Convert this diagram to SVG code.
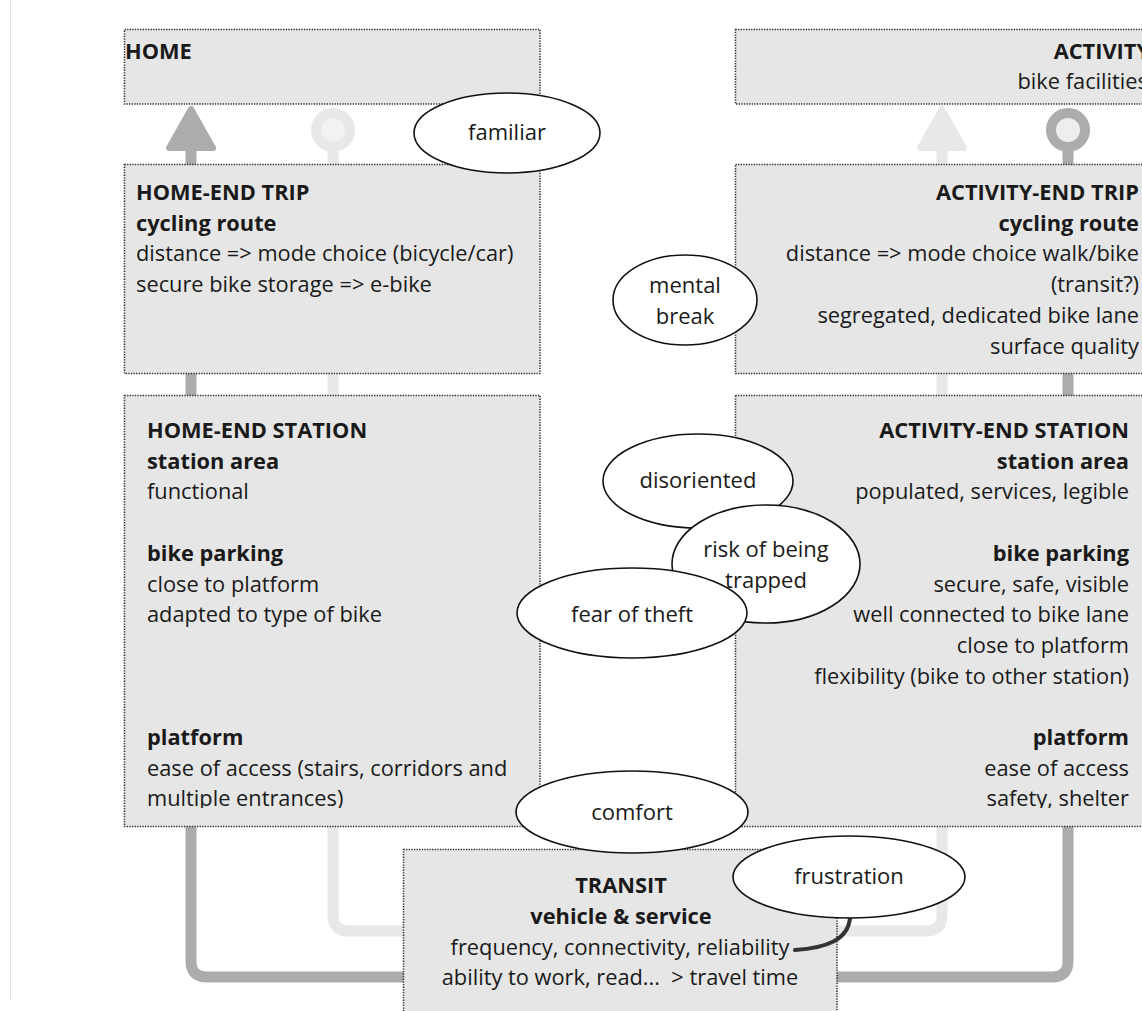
<svg xmlns="http://www.w3.org/2000/svg" width="1142" height="1011" viewBox="0 0 1142 1011">
<defs>
<style>
.box{fill:#e6e6e6;stroke:#2a2a2a;stroke-width:1.5;stroke-dasharray:1.3 1.3}
.t{font-family:"Open Sans","Noto Sans","DejaVu Sans",sans-serif;font-size:21.8px;fill:#1a1a1a}
.e{font-size:22px}
.b{font-weight:bold}
.r{text-anchor:end}
.m{text-anchor:middle}
.ell{fill:#ffffff;stroke:#111;stroke-width:1.6}
.dk{fill:none;stroke:#acacac;stroke-width:11}
.lt{fill:none;stroke:#e8e8e8;stroke-width:11}
</style>
<clipPath id="clipL"><rect x="124" y="395" width="416" height="413"/></clipPath>
<clipPath id="clipR"><rect x="735" y="395" width="420" height="413"/></clipPath>
<clipPath id="clipTop"><rect x="735" y="29" width="407" height="75"/></clipPath>
</defs>
<rect width="1142" height="1011" fill="#ffffff"/>
<line x1="10.5" y1="0" x2="10.5" y2="1000" stroke="#e2e2e2" stroke-width="1"/>

<g id="connectors">
<path class="dk" d="M191,150 V961 Q191,977 207,977 H410"/>
<polygon points="191,109 169,148 213,148" fill="#acacac" stroke="#acacac" stroke-width="6" stroke-linejoin="round"/>
<path class="lt" d="M333,150 V915 Q333,931 349,931 H410"/>
<circle cx="333" cy="130" r="17" fill="#f2f2f2" stroke="#e8e8e8" stroke-width="10"/>
<path class="lt" d="M942,150 V915 Q942,931 926,931 H830"/>
<polygon points="942,109 920,148 964,148" fill="#e8e8e8" stroke="#e8e8e8" stroke-width="6" stroke-linejoin="round"/>
<path class="dk" d="M1068,150 V961 Q1068,977 1052,977 H830"/>
<circle cx="1068" cy="130" r="17" fill="#eeeeee" stroke="#acacac" stroke-width="10"/>
</g>

<g id="home">
<rect class="box" x="124.5" y="29.5" width="415.5" height="74.5"/>
<text class="t b" x="125" y="59">HOME</text>
</g>

<g id="activity">
<rect class="box" x="735.5" y="29.5" width="420" height="74.5"/>
<g clip-path="url(#clipTop)">
<text class="t b r" x="1150" y="59">ACTIVITY</text>
<text class="t r" x="1148" y="89">bike facilities</text>
</g>
</g>

<g id="home-end-trip">
<rect class="box" x="124.5" y="164.5" width="415.5" height="209"/>
<text class="t b" x="136" y="200">HOME-END TRIP</text>
<text class="t b" x="136" y="230.7">cycling route</text>
<text class="t" x="136" y="261.4">distance =&gt; mode choice (bicycle/car)</text>
<text class="t" x="136" y="292.1">secure bike storage =&gt; e-bike</text>
</g>

<g id="activity-end-trip">
<rect class="box" x="735.5" y="164.5" width="420" height="209"/>
<text class="t b r" x="1139" y="200">ACTIVITY-END TRIP</text>
<text class="t b r" x="1139" y="230.7">cycling route</text>
<text class="t r" x="1139" y="261.4">distance =&gt; mode choice walk/bike</text>
<text class="t r" x="1139" y="292.1">(transit?)</text>
<text class="t r" x="1139" y="322.8">segregated, dedicated bike lane</text>
<text class="t r" x="1139" y="353.5">surface quality</text>
</g>

<g id="home-end-station">
<rect class="box" x="124.5" y="395.5" width="415.5" height="431"/>
<g clip-path="url(#clipL)">
<text class="t b" x="147" y="438">HOME-END STATION</text>
<text class="t b" x="147" y="468.7">station area</text>
<text class="t" x="147" y="499.4">functional</text>
<text class="t b" x="147" y="560.8">bike parking</text>
<text class="t" x="147" y="591.5">close to platform</text>
<text class="t" x="147" y="622.2">adapted to type of bike</text>
<text class="t b" x="147" y="745">platform</text>
<text class="t" x="147" y="775.7">ease of access (stairs, corridors and</text>
<text class="t" x="147" y="806.4">multiple entrances)</text>
</g>
</g>

<g id="activity-end-station">
<rect class="box" x="735.5" y="395.5" width="420" height="431"/>
<g clip-path="url(#clipR)">
<text class="t b r" x="1129" y="438">ACTIVITY-END STATION</text>
<text class="t b r" x="1129" y="468.7">station area</text>
<text class="t r" x="1129" y="499.4">populated, services, legible</text>
<text class="t b r" x="1129" y="560.8">bike parking</text>
<text class="t r" x="1129" y="591.5">secure, safe, visible</text>
<text class="t r" x="1129" y="622.2">well connected to bike lane</text>
<text class="t r" x="1129" y="652.9">close to platform</text>
<text class="t r" x="1129" y="683.6">flexibility (bike to other station)</text>
<text class="t b r" x="1129" y="745">platform</text>
<text class="t r" x="1129" y="775.7">ease of access</text>
<text class="t r" x="1129" y="806.4">safety, shelter</text>
</g>
</g>

<g id="transit">
<rect class="box" x="403.5" y="849.5" width="433.5" height="170"/>
<text class="t b m" x="621" y="893">TRANSIT</text>
<text class="t b m" x="621" y="923.5">vehicle &amp; service</text>
<text class="t m" x="620" y="954.5">frequency, connectivity, reliability</text>
<text class="t m" x="620" y="985">ability to work, read...&#160; &gt; travel time</text>
</g>

<g id="frustration-link">
<path d="M795,950 C826,948 848,940 850,918" fill="none" stroke="#333" stroke-width="4" stroke-linecap="round"/>
</g>

<g id="familiar">
<ellipse class="ell" cx="507" cy="133" rx="93" ry="40"/>
<text class="t e m" x="507" y="140">familiar</text>
</g>
<g id="mental-break">
<ellipse class="ell" cx="685" cy="300" rx="72" ry="45"/>
<text class="t e m" x="685" y="293">mental</text>
<text class="t e m" x="685" y="324">break</text>
</g>
<g id="disoriented">
<ellipse class="ell" cx="698" cy="481" rx="95" ry="47"/>
<text class="t e m" x="698" y="488">disoriented</text>
</g>
<g id="risk-trapped">
<ellipse class="ell" cx="766" cy="564" rx="94" ry="59"/>
<text class="t e m" x="766" y="557">risk of being</text>
<text class="t e m" x="766" y="588">trapped</text>
</g>
<g id="fear-of-theft">
<ellipse class="ell" cx="632" cy="613" rx="115" ry="45"/>
<text class="t e m" x="632" y="622">fear of theft</text>
</g>
<g id="comfort">
<ellipse class="ell" cx="632" cy="812" rx="116" ry="41"/>
<text class="t e m" x="632" y="820">comfort</text>
</g>
<g id="frustration">
<ellipse class="ell" cx="849" cy="877" rx="116" ry="41"/>
<text class="t e m" x="849" y="884">frustration</text>
</g>
</svg>
